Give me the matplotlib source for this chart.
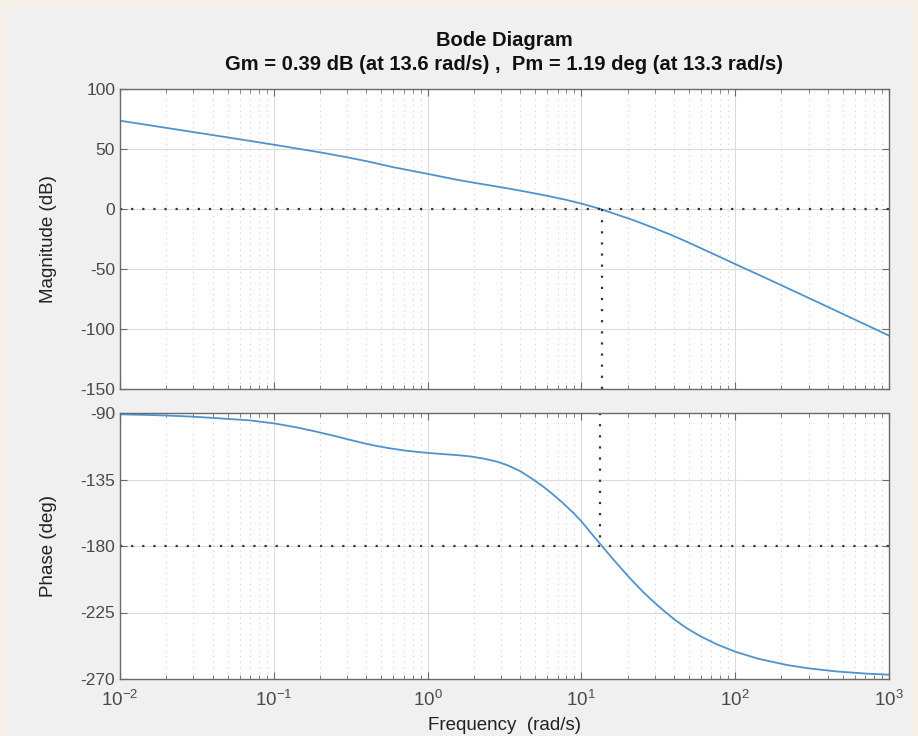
import numpy as np
import matplotlib.pyplot as plt
from matplotlib.patches import Rectangle
from matplotlib.ticker import LogLocator, NullFormatter

plt.rcParams['font.family'] = ['Liberation Sans', 'DejaVu Sans']
plt.rcParams['axes.unicode_minus'] = False

# valores (magnitude em dB)
freq_mag = [0.01, 0.02, 0.05, 0.1, 0.2, 0.3, 0.42, 0.6, 1.0, 1.5, 2.0, 3.0, 4.0,
            5.9, 8.0, 10.0, 11.5, 13.3, 17.8, 22.0, 29.3, 38.0, 48.3, 65.0,
            100.0, 150.0, 200.0, 300.0, 500.0, 700.0, 1000.0]
mag_db = [73.6, 67.6, 59.7, 53.6, 47.2, 43.1, 39.3, 34.8, 29.3, 24.75, 21.9, 18.15, 15.3,
          11.2, 7.55, 4.5, 2.35, 0.0, -5.5, -9.5, -15.6, -21.4, -27.2, -34.8,
          -45.9, -56.2, -63.6, -74.1, -87.4, -96.2, -105.5]

# fase em graus
freq_fase = [0.01, 0.015, 0.02, 0.03, 0.04, 0.05, 0.07, 0.1, 0.14, 0.185, 0.25, 0.305,
             0.38, 0.455, 0.56, 0.7, 0.85, 1.0, 1.3, 1.6, 1.9, 2.3, 2.8, 3.3, 4.0,
             4.7, 5.65, 6.5, 7.6, 8.8, 10.0, 11.5, 13.6, 16.0, 17.8, 20.7, 25.0,
             30.0, 34.0, 40.0, 48.0, 59.0, 75.0, 100.0, 140.0, 216.0, 300.0, 457.0,
             700.0, 1000.0]
fase_deg = [-90.9, -91.3, -91.7, -92.5, -93.3, -94.0, -95.0, -97.0, -99.7, -102.4,
            -105.6, -107.9, -110.3, -112.1, -113.8, -115.3, -116.3, -117.0, -117.9,
            -118.6, -119.4, -120.8, -122.8, -125.3, -129.3, -134.0, -139.8, -144.9,
            -151.0, -157.3, -163.3, -171.0, -180.0, -188.7, -194.2, -201.8, -210.8,
            -218.5, -223.4, -229.5, -235.4, -240.9, -246.3, -251.5, -256.2, -260.5,
            -262.8, -264.9, -266.3, -267.1]

titulo = "Bode Diagram"
subtitulo = "Gm = 0.39 dB (at 13.6 rad/s) ,  Pm = 1.19 deg (at 13.3 rad/s)"
w_pm = 13.3
w_gm = 13.6

mag_ticks = [100, 50, 0, -50, -100, -150]
fase_ticks = [-90, -135, -180, -225, -270]

cor_linha = '#4f93cc'
cor_texto = '#4a4a4a'
cor_eixo = '#6a6a6a'

fig = plt.figure(figsize=(9.18, 7.36), dpi=100, facecolor='#f5f0e8')
# painel cinza da janela do MATLAB (atrás dos eixos)
fig.patches.append(Rectangle((7 / 918, 0), 905 / 918, 1 - 9 / 736,
                             transform=fig.transFigure, facecolor='#f0f0f0',
                             edgecolor='none', zorder=-10))

ax1 = fig.add_axes([120 / 918, 1 - 389 / 736, 769 / 918, 300 / 736])
ax2 = fig.add_axes([120 / 918, 1 - 679 / 736, 769 / 918, 266 / 736])


def estilo(ax, yticks, ylim):
    ax.set_xscale('log')
    ax.set_xlim(0.01, 1000)
    ax.set_ylim(*ylim)
    ax.set_yticks(yticks)
    ax.xaxis.set_minor_locator(LogLocator(base=10, subs=np.arange(2, 10), numticks=20))
    ax.xaxis.set_minor_formatter(NullFormatter())
    ax.grid(True, which='major', color='#dcdcdc', linewidth=0.8)
    ax.grid(True, which='minor', axis='x', color='#d0d0d0', linestyle=(0, (1, 4)), linewidth=0.8)
    ax.tick_params(which='both', direction='in', top=True, right=True, colors=cor_eixo,
                   labelcolor=cor_texto, labelsize=12.5)
    ax.tick_params(which='major', length=5)
    ax.tick_params(which='minor', length=3)
    for s in ax.spines.values():
        s.set_color(cor_eixo)
        s.set_linewidth(1.0)
    ax.set_axisbelow(True)


estilo(ax1, mag_ticks, (-150, 100))
estilo(ax2, fase_ticks, (-270, -90))

ax1.plot(freq_mag, mag_db, color=cor_linha, linewidth=1.3)
ax2.plot(freq_fase, fase_deg, color=cor_linha, linewidth=1.3)

# linhas de margem
pont = dict(color='#333333', linestyle=(0, (1, 4)), linewidth=1.6)
ax1.axhline(0, **pont)
ax1.plot([w_gm, w_gm], [0, -150], **pont)
ax2.axhline(-180, **pont)
ax2.plot([w_pm, w_pm], [-90, -180], **pont)

ax1.tick_params(labelbottom=False)
ax2.tick_params(axis='x', pad=8, labelsize=13.5)

ax1.set_ylabel("Magnitude (dB)", fontsize=13.5, color='#222222')
ax1.yaxis.set_label_coords(-0.082, 0.5)
ax2.set_ylabel("Phase (deg)", fontsize=13.5, color='#222222')
ax2.yaxis.set_label_coords(-0.082, 0.5)
ax2.set_xlabel("Frequency  (rad/s)", fontsize=13.5, color='#222222')
ax2.xaxis.set_label_coords(0.5, -0.143)

fig.text(504 / 918, 1 - 41 / 736, titulo, ha='center', va='center',
         fontsize=14.5, fontweight='bold', color='#111111')
fig.text(504 / 918, 1 - 65 / 736, subtitulo, ha='center', va='center',
         fontsize=14.5, fontweight='bold', color='#111111')

fig.savefig('out.png', dpi=100, facecolor=fig.get_facecolor())
